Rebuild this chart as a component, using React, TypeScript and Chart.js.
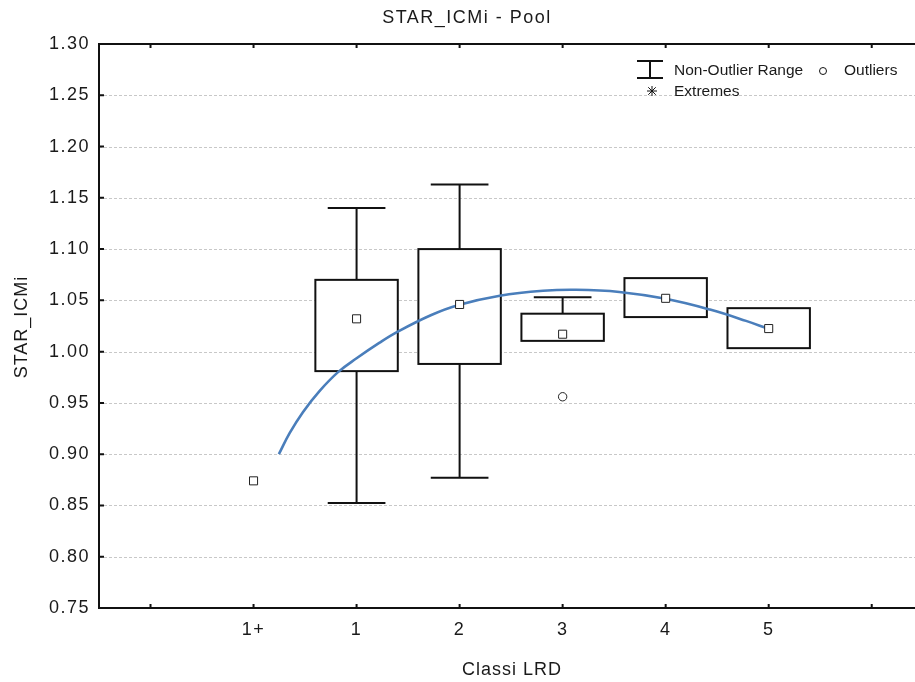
import React, { useEffect, useRef } from 'react';
import { Chart, registerables } from 'chart.js';

Chart.register(...registerables);

// ---- data ----
const categories = ['1+', '1', '2', '3', '4', '5'];
const meanValues = [0.874, 1.032, 1.046, 1.017, 1.052, 1.0225];
const boxLow = [null, 0.981, 0.988, 1.0105, 1.0337, 1.0034];
const boxHigh = [null, 1.07, 1.1, 1.037, 1.0717, 1.0424];
const whiskerLow = [null, 0.8525, 0.877, 1.0105, 1.0337, 1.0034];
const whiskerHigh = [null, 1.14, 1.163, 1.053, 1.0717, 1.0424];
const outlierCategories = ['3'];
const outlierValues = [0.956];
const fitX = [0.246, 0.35, 0.479, 0.64, 0.82, 1.0, 1.22, 1.4, 1.72, 1.99, 2.39, 2.81, 3.13, 3.55, 4.0, 4.43, 4.78, 4.99];
const fitY = [0.9, 0.9205, 0.941, 0.9615, 0.98, 0.9935, 1.0085, 1.0195, 1.0355, 1.0455, 1.0545, 1.0593, 1.0603, 1.0582, 1.0515, 1.041, 1.03, 1.0225];
const xTickPositions = [-1, 0, 1, 2, 3, 4, 5, 6];

const titleText = 'STAR_ICMi - Pool';
const xTitle = 'Classi LRD';
const yTitle = 'STAR_ICMi';
const legendRange = 'Non-Outlier Range';
const legendOutliers = 'Outliers';
const legendExtremes = 'Extremes';

const FONT = '"Liberation Sans", Arial, Helvetica, sans-serif';
const TEXT = '#1a1a1a';

const decor = {
  id: 'decor',
  beforeUpdate(chart: any) {
    chart.ctx.letterSpacing = '1.5px';
  },
  beforeDraw(chart: any) {
    chart.ctx.letterSpacing = '1.5px';
  },
  beforeDatasetsDraw(chart: any) {
    const { ctx, chartArea: a, scales } = chart;
    const x = scales.x;
    const y = scales.y;
    ctx.save();
    // dashed horizontal grid
    ctx.strokeStyle = '#c8c8c8';
    ctx.lineWidth = 1;
    ctx.setLineDash([3, 2]);
    for (const t of y.ticks) {
      if (t.value <= y.min + 1e-9 || t.value >= y.max - 1e-9) continue;
      const py = Math.round(y.getPixelForValue(t.value)) + 0.5;
      ctx.beginPath();
      ctx.moveTo(a.left, py);
      ctx.lineTo(a.right, py);
      ctx.stroke();
    }
    ctx.setLineDash([]);
    // boxes and whiskers
    ctx.strokeStyle = '#111';
    ctx.lineWidth = 2;
    categories.forEach((_, i) => {
      const lo = boxLow[i];
      const hi = boxHigh[i];
      if (lo == null || hi == null) return;
      const xc = x.getPixelForValue(i);
      const xl = x.getPixelForValue(i - 0.4);
      const xr = x.getPixelForValue(i + 0.4);
      const cl = x.getPixelForValue(i - 0.28);
      const cr = x.getPixelForValue(i + 0.28);
      const wl = whiskerLow[i];
      const wh = whiskerHigh[i];
      const yHi = y.getPixelForValue(hi);
      const yLo = y.getPixelForValue(lo);
      if (wh != null && wh > hi) {
        const yw = y.getPixelForValue(wh);
        ctx.beginPath();
        ctx.moveTo(xc, yHi);
        ctx.lineTo(xc, yw);
        ctx.moveTo(cl, yw);
        ctx.lineTo(cr, yw);
        ctx.stroke();
      }
      if (wl != null && wl < lo) {
        const yw = y.getPixelForValue(wl);
        ctx.beginPath();
        ctx.moveTo(xc, yLo);
        ctx.lineTo(xc, yw);
        ctx.moveTo(cl, yw);
        ctx.lineTo(cr, yw);
        ctx.stroke();
      }
      ctx.fillStyle = '#ffffff';
      ctx.fillRect(xl, yHi, xr - xl, yLo - yHi);
      ctx.strokeRect(xl, yHi, xr - xl, yLo - yHi);
    });
    ctx.restore();
  },
  afterDraw(chart: any) {
    const { ctx, chartArea: a, scales } = chart;
    const x = scales.x;
    const y = scales.y;
    ctx.save();
    // axis lines
    ctx.strokeStyle = '#111';
    ctx.lineWidth = 2;
    ctx.beginPath();
    ctx.moveTo(a.left, a.top);
    ctx.lineTo(a.right, a.top);
    ctx.moveTo(a.left, a.top - 1);
    ctx.lineTo(a.left, a.bottom + 1);
    ctx.moveTo(a.left, a.bottom);
    ctx.lineTo(a.right, a.bottom);
    ctx.stroke();
    // inward tick marks
    ctx.lineWidth = 2;
    ctx.beginPath();
    for (const t of y.ticks) {
      const py = y.getPixelForValue(t.value);
      ctx.moveTo(a.left, py);
      ctx.lineTo(a.left + 5, py);
    }
    for (const v of xTickPositions) {
      const px = x.getPixelForValue(v);
      ctx.moveTo(px, a.bottom);
      ctx.lineTo(px, a.bottom - 4);
      ctx.moveTo(px, a.top);
      ctx.lineTo(px, a.top + 4);
    }
    ctx.stroke();

    // titles
    ctx.fillStyle = TEXT;
    ctx.textBaseline = 'middle';
    ctx.textAlign = 'center';
    ctx.font = `18px ${FONT}`;
    ctx.letterSpacing = '1.5px';
    ctx.fillText(titleText, 467, 18);
    ctx.letterSpacing = '1px';
    ctx.fillText(xTitle, 512, 670);
    ctx.save();
    ctx.translate(22, 327);
    ctx.rotate(-Math.PI / 2);
    ctx.fillText(yTitle, 0, 0);
    ctx.restore();

    // legend
    ctx.letterSpacing = '0px';
    ctx.font = `15.5px ${FONT}`;
    ctx.textAlign = 'left';
    ctx.strokeStyle = '#111';
    ctx.lineWidth = 2;
    ctx.beginPath();
    ctx.moveTo(637, 61);
    ctx.lineTo(663, 61);
    ctx.moveTo(650, 61);
    ctx.lineTo(650, 78);
    ctx.moveTo(637, 78);
    ctx.lineTo(663, 78);
    ctx.stroke();
    ctx.fillText(legendRange, 674, 71);
    ctx.lineWidth = 1;
    ctx.beginPath();
    ctx.arc(823, 71, 3.5, 0, Math.PI * 2);
    ctx.stroke();
    ctx.fillText(legendOutliers, 844, 71);
    // asterisk
    ctx.beginPath();
    const sx = 652, sy = 91, r = 5;
    ctx.moveTo(sx, sy - r);
    ctx.lineTo(sx, sy + r);
    ctx.moveTo(sx - r, sy);
    ctx.lineTo(sx + r, sy);
    ctx.moveTo(sx - r * 0.75, sy - r * 0.75);
    ctx.lineTo(sx + r * 0.75, sy + r * 0.75);
    ctx.moveTo(sx + r * 0.75, sy - r * 0.75);
    ctx.lineTo(sx - r * 0.75, sy + r * 0.75);
    ctx.stroke();
    ctx.fillText(legendExtremes, 674, 92);
    ctx.restore();
  },
};

export default function App() {
  const ref = useRef<HTMLCanvasElement>(null);
  useEffect(() => {
    const canvas = ref.current;
    if (!canvas) return;
    const chart = new Chart(canvas, {
      type: 'scatter',
      data: {
        datasets: [
          {
            label: 'fit',
            data: fitX.map((v, i) => ({ x: v, y: fitY[i] })),
            showLine: true,
            borderColor: '#4a7ebb',
            borderWidth: 2.6,
            pointRadius: 0,
            tension: 0.4,
            order: 2,
          },
          {
            label: 'mean',
            data: categories.map((_, i) => ({ x: i, y: meanValues[i] })),
            pointStyle: 'rect',
            pointRadius: 5.7,
            backgroundColor: '#ffffff',
            borderColor: '#222',
            borderWidth: 1,
            order: 0,
          },
          {
            label: 'outliers',
            data: outlierCategories.map((c, j) => ({ x: categories.indexOf(c), y: outlierValues[j] })),
            pointStyle: 'circle',
            pointRadius: 4.2,
            backgroundColor: '#ffffff',
            borderColor: '#222',
            borderWidth: 1,
            order: 0,
          },
        ],
      },
      options: {
        responsive: false,
        animation: false,
        devicePixelRatio: 1,
        layout: { autoPadding: false, padding: { top: 44, left: 0, right: 0, bottom: 0 } },
        plugins: {
          legend: { display: false },
          tooltip: { enabled: false },
          title: { display: false },
        },
        scales: {
          x: {
            type: 'linear',
            min: -1.5,
            max: 6.42,
            grid: { display: false, drawTicks: false },
            border: { display: false },
            afterBuildTicks: (s: any) => {
              s.ticks = xTickPositions.map((v) => ({ value: v }));
            },
            afterFit: (s: any) => {
              s.height = 74;
              s.paddingLeft = 0;
              s.paddingRight = 0;
            },
            ticks: {
              autoSkip: false,
              maxRotation: 0,
              padding: 11,
              color: TEXT,
              font: { family: FONT, size: 18 },
              callback: (v: any) => categories[v] ?? '',
            },
          },
          y: {
            type: 'linear',
            min: 0.75,
            max: 1.3,
            grid: { display: false, drawTicks: false },
            border: { display: false },
            afterFit: (s: any) => {
              s.width = 99;
            },
            ticks: {
              stepSize: 0.05,
              padding: 9,
              color: TEXT,
              font: { family: FONT, size: 18 },
              callback: (v: any) => Number(v).toFixed(2),
            },
          },
        },
      },
      plugins: [decor],
    } as any);
    return () => chart.destroy();
  }, []);
  return (
    <div style={{ position: 'fixed', left: 0, top: 0, width: 915, height: 682, overflow: 'hidden', background: '#ffffff' }}>
      <canvas ref={ref} width={915} height={682} style={{ display: 'block' }} />
    </div>
  );
}
